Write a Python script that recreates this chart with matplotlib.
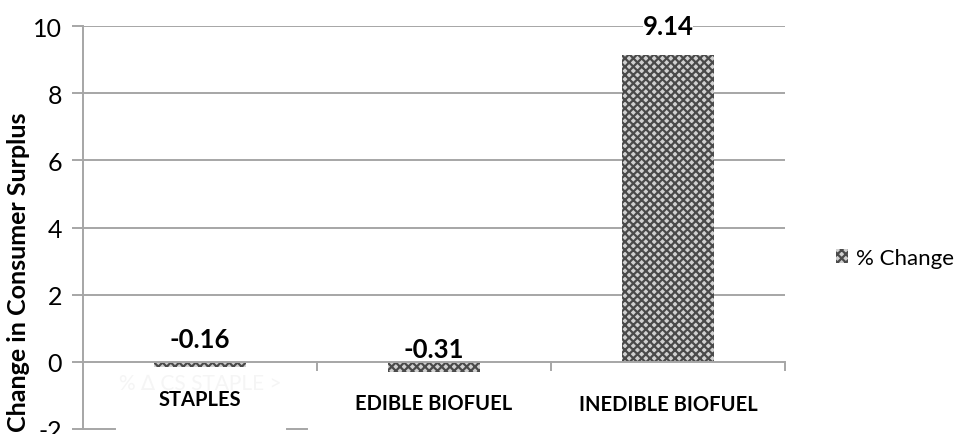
import matplotlib
matplotlib.use("Agg")
import matplotlib.pyplot as plt
from matplotlib.patches import Patch

categories = ["STAPLES", "EDIBLE BIOFUEL", "INEDIBLE BIOFUEL"]
values = [-0.16, -0.31, 9.14]
value_labels = ["-0.16", "-0.31", "9.14"]
yticks = [-2, 0, 2, 4, 6, 8, 10]
series_name = "% Change"
ylabel = "Change in Consumer Surplus"

plt.rcParams['font.family'] = ['Lato', 'DejaVu Sans']
plt.rcParams['hatch.linewidth'] = 1.6
plt.rcParams['hatch.color'] = '#4a4a4a'

fig = plt.figure(figsize=(9.56, 4.35), dpi=100)
ax = fig.add_axes([0.0868, 0.0115, 0.7343, 0.9264])

grid_c = '#a6a6a6'
x = list(range(len(categories)))
bars = ax.bar(x, values, width=0.39, color='#d0d0d0', edgecolor='#4a4a4a',
              hatch='xxxx', linewidth=0, zorder=3)

ax.set_xlim(-0.5, 2.5)
ax.set_ylim(-2, 10)
ax.set_yticks(yticks)
ax.set_yticklabels([str(t) for t in yticks], fontsize=18)

for t in yticks:
    if t in (-2, 0):
        continue
    ax.axhline(t, color=grid_c, lw=1.4, zorder=1)
# partial line at -2 (partly hidden by label boxes in the original)
ax.axhline(-2, xmin=0, xmax=0.046, color=grid_c, lw=1.4, zorder=1, clip_on=False)
ax.axhline(-2, xmin=0.291, xmax=0.319, color=grid_c, lw=1.4, zorder=1, clip_on=False)

for s in ['top', 'right', 'bottom']:
    ax.spines[s].set_visible(False)
ax.spines['left'].set_color(grid_c)
ax.spines['left'].set_linewidth(1.4)
ax.tick_params(axis='y', length=8, width=1.4, color=grid_c, pad=7, labelcolor='black')

# category axis at zero
ax.axhline(0, color=grid_c, lw=1.4, zorder=4)
ax.set_xticks([0.5, 1.5, 2.5])
ax.set_xticklabels([])
ax.tick_params(axis='x', length=0)
for b in [0.5, 1.5, 2.5]:
    ax.plot([b, b], [0, -0.24], color=grid_c, lw=1.4, zorder=4, clip_on=False)

# ghost text
ax.text(0.0, -0.62, "% ∆ CS STAPLE >", color='#f5f5f5', fontsize=15,
        ha='center', va='center', zorder=2)

label_y = [-1.12, -1.22, -1.25]
for xi, c, ly in zip(x, categories, label_y):
    ax.text(xi, ly, c, ha='center', va='center', fontsize=14.5, fontweight='bold', zorder=5)

val_y_off = [0.84, 0.68, 0.86]
for xi, v, lab, off in zip(x, values, value_labels, val_y_off):
    ax.text(xi, v + off, lab, ha='center', va='center', fontsize=18.5,
            fontweight='bold', zorder=5, clip_on=False,
            bbox=dict(facecolor='white', edgecolor='none', pad=0))

ax.set_ylabel(ylabel, fontsize=18, fontweight='bold')
ax.yaxis.set_label_coords(-0.0755, 0.392)

handle = Patch(facecolor='#d0d0d0', edgecolor='#4a4a4a', hatch='xxxx', linewidth=0)
fig.legend([handle], [series_name], loc='center left', bbox_to_anchor=(0.874, 0.405),
           frameon=False, fontsize=16, handlelength=0.55, handleheight=0.55,
           handletextpad=0.35, borderpad=0, borderaxespad=0)

fig.savefig("out.png", dpi=100)
